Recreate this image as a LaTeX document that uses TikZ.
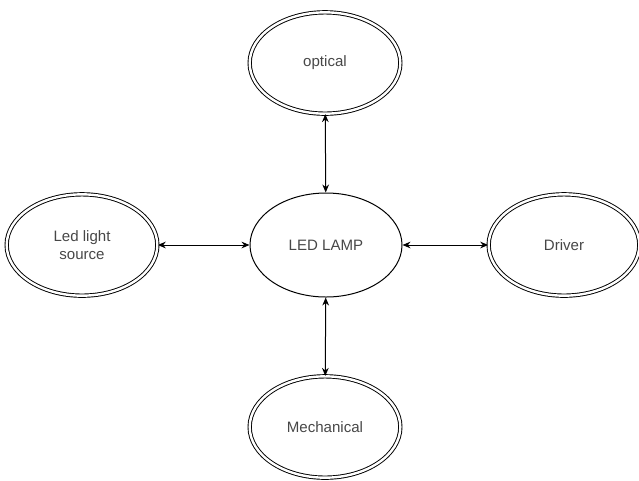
\documentclass[tikz,border=0pt]{standalone}
\usepackage{fontspec}
\setmainfont{Liberation Sans}
\usepackage{tikz}
\usetikzlibrary{
  arrows.meta,
  shapes.geometric,
  positioning
}
\tikzset{
  lamp box/.style={
    draw, ellipse, line width=0.75pt,
    minimum width=114pt, minimum height=78pt,
    inner sep=0pt, align=center, text=black!72,
    font=\fontsize{11.3}{13.5}\selectfont
  },
  part box/.style={
    lamp box, double, double distance=1.8pt, line width=0.7pt,
    minimum width=113pt, minimum height=76pt
  },
  link arrow/.style={
    {Stealth[length=6pt,width=5pt]}-{Stealth[length=6pt,width=5pt]},
    line width=0.75pt, draw=black
  },
}
\begin{document}
\begin{tikzpicture}[x=0.75pt, y=-0.75pt]

  \useasboundingbox (0,0) rectangle (639,480);

  % centre
  \node[lamp box] (lamp) at (326, 245) {LED LAMP};

  % parts
  \node[part box] (optical) at (325, 63) {optical};
  \node[part box] (source) at (82, 245) {Led light\\source};
  \node[part box] (driver) at (564, 245) {Driver};
  \node[part box] (mech) at (325, 427) {Mechanical};

  % links
  \draw[link arrow] (optical) -- (lamp);
  \draw[link arrow] (source) -- (lamp);
  \draw[link arrow] (lamp) -- (driver);
  \draw[link arrow] (lamp) -- (mech);

\end{tikzpicture}
\end{document}
